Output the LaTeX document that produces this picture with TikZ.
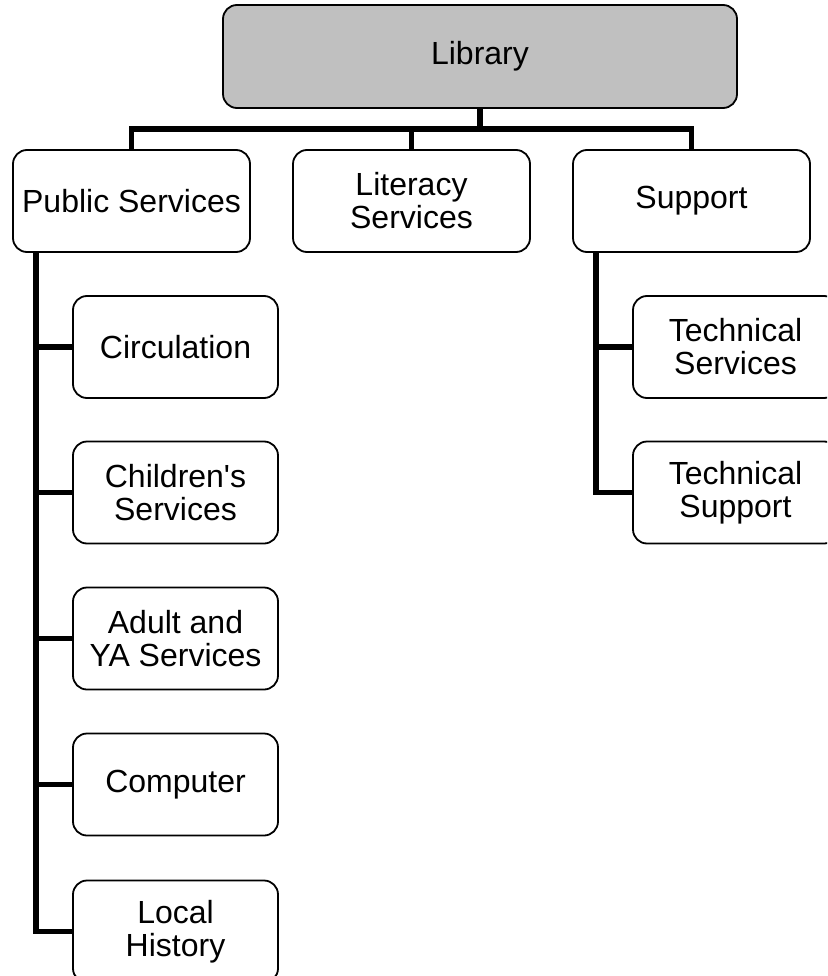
\documentclass[tikz,border=0pt]{standalone}
\usepackage{fontspec}
\setmainfont{Liberation Sans}[Ligatures=TeXOff]
\definecolor{headgray}{RGB}{192,192,192}
\tikzset{
    unit/.style={draw, line width=1.8, rounded corners=14, align=center,
        font=\fontsize{32}{33}\selectfont, minimum width=237, minimum height=102, inner sep=0},
    subunit/.style={unit, minimum width=205},
    link/.style={line width=5.5},
}
\begin{document}
\begin{tikzpicture}[x=1pt,y=-1pt]
        \useasboundingbox (0,0) rectangle (827,976);
        \clip (0,0) rectangle (827,976);

        \node[unit, fill=headgray, minimum width=514, minimum height=103] (lib) at (480,56.5) {Library};

        \node[unit] (pub) at (131.5,201) {Public Services};
        \node[unit] (lit) at (411.5,201) {Literacy\\Services};
        \node[unit] (sup) at (691.5,201) {Support};

        \node[subunit] (circ) at (175.5,347) {Circulation};
        \node[subunit] (child) at (175.5,492.5) {Children's\\Services};
        \node[subunit] (adult) at (175.5,638.5) {Adult and\\YA Services};
        \node[subunit] (comp) at (175.5,784.5) {Computer};
        \node[subunit] (loc) at (175.5,931.5) {Local\\History};

        \node[subunit] (tsv) at (735.5,347) {Technical\\Services};
        \node[subunit] (tsp) at (735.5,492.5) {Technical\\Support};

        \draw[link] (lib.south) -- ++(0,20) coordinate (hub);
        \draw[link] (pub.north) |- (hub) -| (sup.north);
        \draw[link] (lit.north) -- (lit.north |- hub);

        \draw[link] ([xshift=24]pub.south west) |- (loc.west);
        \foreach \n in {circ,child,adult,comp}
            \draw[link] (\n.west) -| ([xshift=24]pub.south west);

        \draw[link] ([xshift=24]sup.south west) |- (tsp.west);
        \draw[link] (tsv.west) -| ([xshift=24]sup.south west);
\end{tikzpicture}
\end{document}
